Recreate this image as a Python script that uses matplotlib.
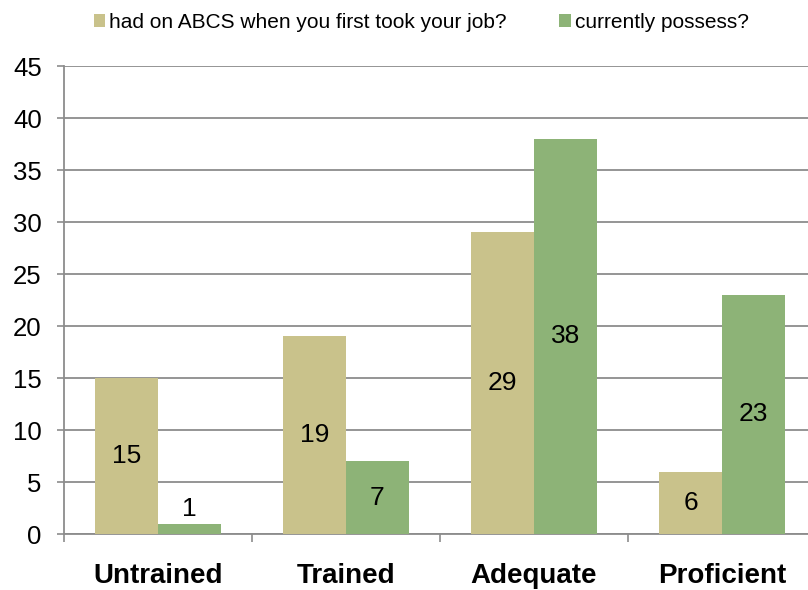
import matplotlib.pyplot as plt
import numpy as np

plt.rcParams['font.family'] = ['Liberation Sans', 'DejaVu Sans']

# 各等级人数
categories = ['Untrained', 'Trained', 'Adequate', 'Proficient']
first_job = [15, 19, 29, 6]
currently = [1, 7, 38, 23]
series_names = ['had on ABCS when you first took your job?', 'currently possess?']

tan = '#C9C28B'
green = '#8DB377'
grid_gray = '#8C8C8C'

fig = plt.figure(figsize=(8.08, 5.90), dpi=100)
ax = fig.add_axes([0.0792, 0.0949, 0.9307, 0.793])

x = np.arange(len(categories))
w = 0.335
b1 = ax.bar(x - w / 2, first_job, w, color=tan, label=series_names[0], zorder=3)
b2 = ax.bar(x + w / 2, currently, w, color=green, label=series_names[1], zorder=3)

# 数值标签：柱子太矮时放在上方
for bars in (b1, b2):
    for rect in bars:
        h = rect.get_height()
        cx = rect.get_x() + rect.get_width() / 2
        y = h / 2 if h >= 4 else h + 1.45
        ax.text(cx, y, f'{h:g}', ha='center', va='center', fontsize=19, zorder=4)

ax.set_xlim(-0.5, len(categories) - 0.5)
ax.set_ylim(0, 45)
ax.set_yticks(range(0, 46, 5))
ax.tick_params(axis='y', labelsize=18.5, length=5, width=1.2, color=grid_gray, pad=11)
ax.yaxis.grid(True, color=grid_gray, linewidth=1.3, zorder=0)

ax.set_xticks(x)
ax.set_xticklabels(categories, fontsize=20, fontweight='bold')
ax.tick_params(axis='x', which='major', length=0, pad=21)
ax.set_xticks(np.arange(-0.5, len(categories), 1), minor=True)
ax.tick_params(axis='x', which='minor', length=6, width=1.2, color=grid_gray)

for side in ('top', 'right'):
    ax.spines[side].set_visible(False)
for side in ('left', 'bottom'):
    ax.spines[side].set_color(grid_gray)
    ax.spines[side].set_linewidth(1.3)

ax.legend(loc='center', bbox_to_anchor=(0.475, 1.094), ncol=2, frameon=False,
          fontsize=15, handlelength=0.55, handleheight=0.55, handletextpad=0.2,
          columnspacing=2.5, borderaxespad=0, borderpad=0)

fig.savefig('out.png', dpi=100)
